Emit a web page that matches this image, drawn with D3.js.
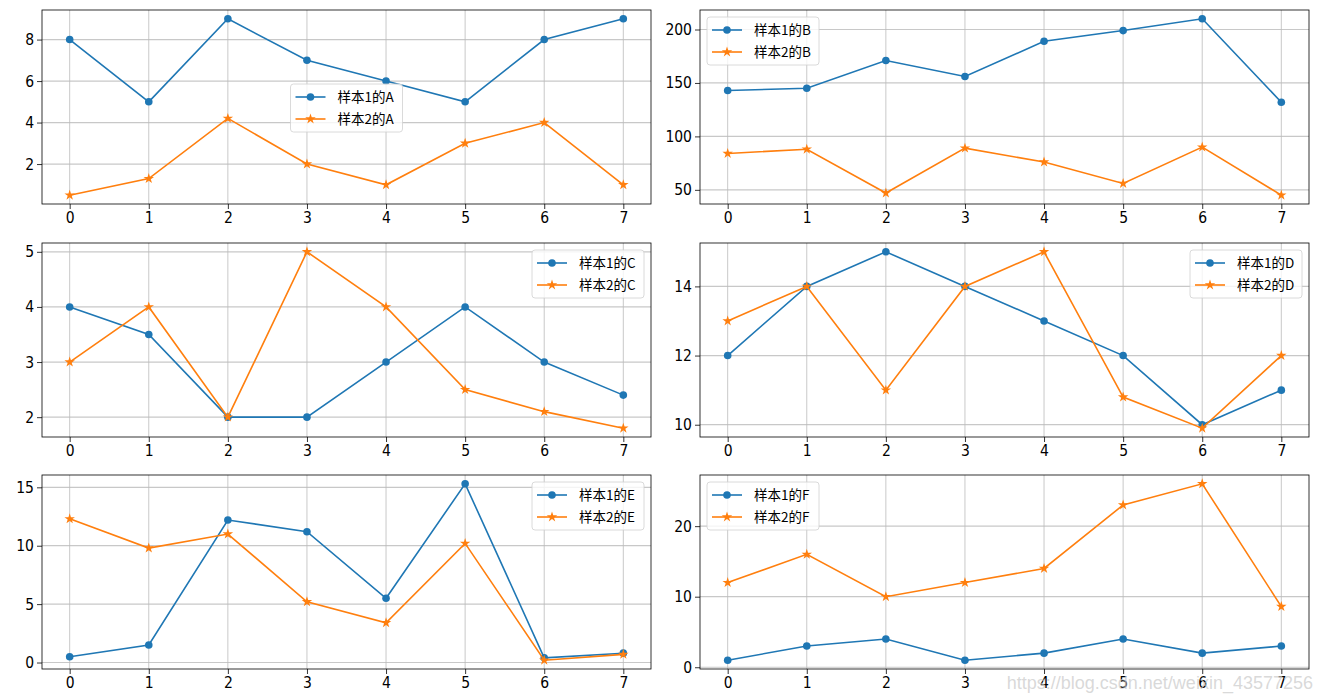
<!DOCTYPE html>
<html>
<head>
<meta charset="utf-8">
<script src="https://cdn.jsdelivr.net/npm/d3@7"></script>
<style>
  body { margin: 0; background: #fff; }
  svg { display: block; }
  .tick text { font-family: "Liberation Sans Narrow", "DejaVu Sans Condensed", "Noto Sans CJK SC", sans-serif; font-size: 15.5px; fill: #000; }
  .legend text { font-family: "Noto Sans CJK SC", sans-serif; font-size: 13.5px; fill: #000; }
</style>
</head>
<body>
<svg id="chart" width="1321" height="699"></svg>
<script>
const xCats = [0, 1, 2, 3, 4, 5, 6, 7];

const sample1A = [8, 5, 9, 7, 6, 5, 8, 9];
const sample2A = [0.5, 1.3, 4.2, 2, 1, 3, 4, 1];
const sample1B = [143, 145, 171, 156, 189, 199, 210, 132];
const sample2B = [84, 88, 47, 89, 76, 56, 90, 45];
const sample1C = [4, 3.5, 2, 2, 3, 4, 3, 2.4];
const sample2C = [3, 4, 2, 5, 4, 2.5, 2.1, 1.8];
const sample1D = [12, 14, 15, 14, 13, 12, 10, 11];
const sample2D = [13, 14, 11, 14, 15, 10.8, 9.9, 12];
const sample1E = [0.5, 1.5, 12.2, 11.2, 5.5, 15.3, 0.4, 0.8];
const sample2E = [12.3, 9.8, 11, 5.2, 3.4, 10.2, 0.2, 0.7];
const sample1F = [1, 3, 4, 1, 2, 4, 2, 3];
const sample2F = [12, 16, 10, 12, 14, 23, 26, 8.6];

const yTicksA = [2, 4, 6, 8];
const yTicksB = [50, 100, 150, 200];
const yTicksC = [2, 3, 4, 5];
const yTicksD = [10, 12, 14];
const yTicksE = [0, 5, 10, 15];
const yTicksF = [0, 10, 20];

const names = ['A', 'B', 'C', 'D', 'E', 'F'];
const legendLoc = ['center', 'upper left', 'upper right', 'upper right', 'upper right', 'upper left'];

const panels = [
  { name: 'A', s1: sample1A, s2: sample2A, ticks: yTicksA },
  { name: 'B', s1: sample1B, s2: sample2B, ticks: yTicksB },
  { name: 'C', s1: sample1C, s2: sample2C, ticks: yTicksC },
  { name: 'D', s1: sample1D, s2: sample2D, ticks: yTicksD },
  { name: 'E', s1: sample1E, s2: sample2E, ticks: yTicksE },
  { name: 'F', s1: sample1F, s2: sample2F, ticks: yTicksF }
];

const blue = '#1f77b4';
const orange = '#ff7f0e';

const svg = d3.select('#chart');
const colX = [[42, 651], [700, 1309]];
const rowY = [[10, 204], [243, 437], [475, 669]];

panels.forEach((p, i) => {
  const [x0, x1] = colX[i % 2];
  const [y0, y1] = rowY[Math.floor(i / 2)];
  const all = p.s1.concat(p.s2);
  const lo = d3.min(all), hi = d3.max(all);
  const pad = (hi - lo) * 0.05;

  const x = d3.scaleLinear().domain([-0.35, 7.35]).range([x0, x1]);
  const y = d3.scaleLinear().domain([lo - pad, hi + pad]).range([y1, y0]);

  const g = svg.append('g');

  // grid
  g.append('g').selectAll('line').data(p.ticks).join('line')
    .attr('x1', x0).attr('x2', x1)
    .attr('y1', d => y(d)).attr('y2', d => y(d))
    .attr('stroke', '#c8c8c8').attr('stroke-width', 1.2);
  g.append('g').selectAll('line').data(xCats).join('line')
    .attr('x1', d => x(d)).attr('x2', d => x(d))
    .attr('y1', y0).attr('y2', y1)
    .attr('stroke', '#bbbbbb').attr('stroke-width', 0.8);

  const line = d3.line().x((d, k) => x(xCats[k])).y(d => y(d));

  g.append('path').datum(p.s1)
    .attr('fill', 'none').attr('stroke', blue).attr('stroke-width', 1.6).attr('d', line);
  g.selectAll('circle.m').data(p.s1).join('circle')
    .attr('class', 'm')
    .attr('cx', (d, k) => x(xCats[k])).attr('cy', d => y(d))
    .attr('r', 3.8).attr('fill', blue);

  g.append('path').datum(p.s2)
    .attr('fill', 'none').attr('stroke', orange).attr('stroke-width', 1.6).attr('d', line);
  const star = d3.symbol().type(d3.symbolStar).size(34);
  g.selectAll('path.s').data(p.s2).join('path')
    .attr('class', 's')
    .attr('transform', (d, k) => `translate(${x(xCats[k])},${y(d)})`)
    .attr('d', star).attr('fill', orange);

  // axes
  const xa = g.append('g').attr('transform', `translate(0,${y1})`)
    .call(d3.axisBottom(x).tickValues(xCats).tickFormat(d3.format('d')).tickSize(5).tickPadding(3));
  const ya = g.append('g').attr('transform', `translate(${x0},0)`)
    .call(d3.axisLeft(y).tickValues(p.ticks).tickFormat(d3.format('d')).tickSize(5).tickPadding(3));
  [xa, ya].forEach(a => {
    a.select('.domain').remove();
    a.selectAll('.tick line').attr('stroke', '#000').attr('stroke-width', 0.8);
  });

  g.append('rect')
    .attr('x', x0).attr('y', y0).attr('width', x1 - x0).attr('height', y1 - y0)
    .attr('fill', 'none').attr('stroke', '#000').attr('stroke-width', 0.8);

  // legend
  const lw = 112, lh = 48, lp = 7;
  const loc = legendLoc[i];
  let lx, ly;
  if (loc === 'center') { lx = (x0 + x1) / 2 - lw / 2; ly = (y0 + y1) / 2 - lh / 2 + 1; }
  else if (loc === 'upper left') { lx = x0 + lp; ly = y0 + lp; }
  else { lx = x1 - lp - lw; ly = y0 + lp; }

  const lg = g.append('g').attr('class', 'legend').attr('transform', `translate(${lx},${ly})`);
  lg.append('rect').attr('width', lw).attr('height', lh).attr('rx', 3)
    .attr('fill', 'rgba(255,255,255,0.8)').attr('stroke', '#d0d0d0').attr('stroke-width', 0.8);
  const entries = [
    { label: `样本1的${names[i]}`, color: blue, marker: 'circle' },
    { label: `样本2的${names[i]}`, color: orange, marker: 'star' }
  ];
  entries.forEach((e, k) => {
    const cy = 13 + k * 22;
    lg.append('line').attr('x1', 5).attr('x2', 35).attr('y1', cy).attr('y2', cy)
      .attr('stroke', e.color).attr('stroke-width', 1.6);
    if (e.marker === 'circle') {
      lg.append('circle').attr('cx', 20).attr('cy', cy).attr('r', 3.8).attr('fill', e.color);
    } else {
      lg.append('path').attr('transform', `translate(20,${cy})`).attr('d', star).attr('fill', e.color);
    }
    lg.append('text').attr('x', 47).attr('y', cy).attr('dy', '0.35em').text(e.label);
  });
});

svg.append('text')
  .attr('x', 1313).attr('y', 689).attr('text-anchor', 'end')
  .attr('font-family', 'Liberation Sans, sans-serif').attr('font-size', 18)
  .attr('fill', 'rgba(200,200,200,0.7)')
  .text('https://blog.csdn.net/weixin_43577256');
</script>
</body>
</html>
